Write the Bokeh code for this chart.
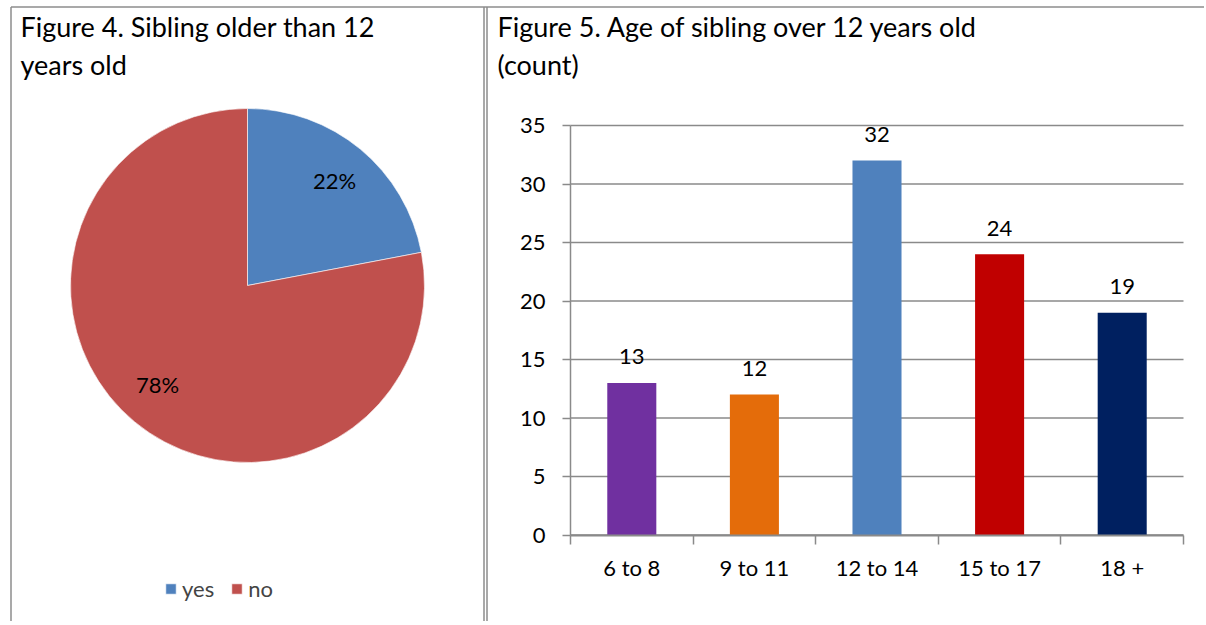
import math
from bokeh.plotting import figure
from bokeh.models import (Range1d, Label, Legend, LegendItem, FixedTicker,
                          LinearAxis, ColumnDataSource)
from bokeh.embed import file_html
from bokeh.resources import INLINE
from bokeh.core.properties import value

# ---- data ----
pie_labels = ["yes", "no"]
pie_shares = [22, 78]
pie_colors = ["#4F81BD", "#C0504D"]

age_groups = ["6 to 8", "9 to 11", "12 to 14", "15 to 17", "18 +"]
age_counts = [13, 12, 32, 24, 19]
bar_colors = ["#7030A0", "#E46C0A", "#4F81BD", "#C00000", "#002060"]
y_ticks = [0, 5, 10, 15, 20, 25, 30, 35]

FONT = "Lato"
BORDER = "#8c8c8c"
AX = "#8a8a8a"

# page geometry (canvas placed at page origin ORIG)
ORIG = 0
W, H = 1204, 621
PH = 625  # data y = PH - page y


def py(y):
    return PH - y


p = figure(width=W, height=H, output_backend="svg", toolbar_location=None,
           x_range=Range1d(ORIG, ORIG + W), y_range=Range1d(PH - ORIG - H, PH - ORIG),
           min_border=0, outline_line_color=None)
p.axis.visible = False
p.grid.visible = False

# ---------------- cell borders ----------------
p.segment(x0=[10.5, 10.5, 483.5, 486.5], y0=[0, py(6.5), 0, 0],
          x1=[10.5, 1300, 483.5, 486.5], y1=[py(6.5), py(6.5), py(6.5), py(6.5)],
          line_color=BORDER, line_width=1.5)

# ---------------- pie ----------------
cx, cy, r = 247, py(285), 177
total = sum(pie_shares)
start = math.pi / 2
items = []
label_pos = [(334, 180), (157, 384)]
for i, (lab, s, c) in enumerate(zip(pie_labels, pie_shares, pie_colors)):
    end = start - 2 * math.pi * s / total
    rend = p.wedge(x=cx, y=cy, radius=r, start_angle=end, end_angle=start,
                   fill_color=c, line_color="#ffffff", line_width=1, line_alpha=0.6)
    items.append(LegendItem(label=lab, renderers=[rend]))
    lx, ly = label_pos[i]
    p.add_layout(Label(x=lx, y=py(ly), text=f"{s}%", text_font=FONT,
                       text_font_size="22px", text_align="center",
                       text_baseline="middle", text_color="#000000"))
    start = end

legend = Legend(items=items, orientation="horizontal",
                location=(164 - ORIG, ORIG + H - 602),
                label_text_font=FONT, label_text_font_size="22px",
                glyph_width=13, glyph_height=13, label_standoff=5, spacing=16,
                padding=0, margin=0, border_line_color=None,
                background_fill_alpha=0, label_height=24)
p.add_layout(legend, "center")

# titles
for tx, ty, t in [(20, 26, "Figure 4. Sibling older than 12"),
                  (20, 64, "years old"),
                  (497, 26, "Figure 5. Age of sibling over 12 years old"),
                  (497, 64, "(count)")]:
    p.add_layout(Label(x=tx, y=py(ty), text=t, text_font=FONT,
                       text_font_size="27px", text_baseline="middle",
                       text_color="#000000"))

# ---------------- bar chart on its own ranges ----------------
left_px, right_px, top_px, bottom_px = 570, 1183, 125, 534.5
ncat = len(age_groups)
sx = ncat / (right_px - left_px)
sy = max(y_ticks) / (bottom_px - top_px)
p.extra_x_ranges = {"bx": Range1d(-(left_px - ORIG) * sx, ncat + (ORIG + W - right_px) * sx)}
p.extra_y_ranges = {"by": Range1d(-(ORIG + H - bottom_px) * sy, max(y_ticks) + (top_px - ORIG) * sy)}

# horizontal gridlines from the tick values
p.segment(x0=[0] * len(y_ticks), x1=[ncat] * len(y_ticks), y0=y_ticks, y1=y_ticks,
          x_range_name="bx", y_range_name="by", line_color=AX, line_width=1.5)

src = ColumnDataSource(dict(x=[i + 0.5 for i in range(ncat)],
                            top=age_counts, color=bar_colors,
                            txt=[str(v) for v in age_counts]))
p.vbar(x="x", top="top", width=0.4, bottom=0, fill_color="color",
       line_color=None, source=src, x_range_name="bx", y_range_name="by")
p.text(x="x", y="top", text="txt", source=src, text_align="center",
       text_baseline="middle", y_offset=-26, text_font=value(FONT),
       text_font_size="22px", text_color="#000000",
       x_range_name="bx", y_range_name="by")

ya = LinearAxis(x_range_name="bx", y_range_name="by", fixed_location=0,
                bounds=(0, max(y_ticks)), ticker=FixedTicker(ticks=y_ticks))
ya.axis_line_color = AX
ya.axis_line_width = 1.5
ya.major_tick_line_color = AX
ya.major_tick_line_width = 1.5
ya.major_tick_out = 8
ya.major_tick_in = 0
ya.minor_tick_line_color = None
ya.major_label_text_font = FONT
ya.major_label_text_font_size = "22px"
ya.major_label_text_color = "#000000"
ya.major_label_standoff = 17
p.add_layout(ya, "left")

xa = LinearAxis(x_range_name="bx", y_range_name="by", fixed_location=0,
                bounds=(0, ncat),
                ticker=FixedTicker(ticks=[i + 0.5 for i in range(ncat)],
                                   minor_ticks=list(range(ncat + 1))))
xa.major_label_overrides = {i + 0.5: g for i, g in enumerate(age_groups)}
xa.axis_line_color = AX
xa.axis_line_width = 2
xa.major_tick_line_color = None
xa.major_tick_out = 0
xa.major_tick_in = 0
xa.minor_tick_line_color = AX
xa.minor_tick_line_width = 1.5
xa.minor_tick_out = 9
xa.minor_tick_in = 0
xa.major_label_text_font = FONT
xa.major_label_text_font_size = "22px"
xa.major_label_text_color = "#000000"
xa.major_label_standoff = 10
p.add_layout(xa, "below")

open("out.html", "w").write(file_html(p, INLINE))
